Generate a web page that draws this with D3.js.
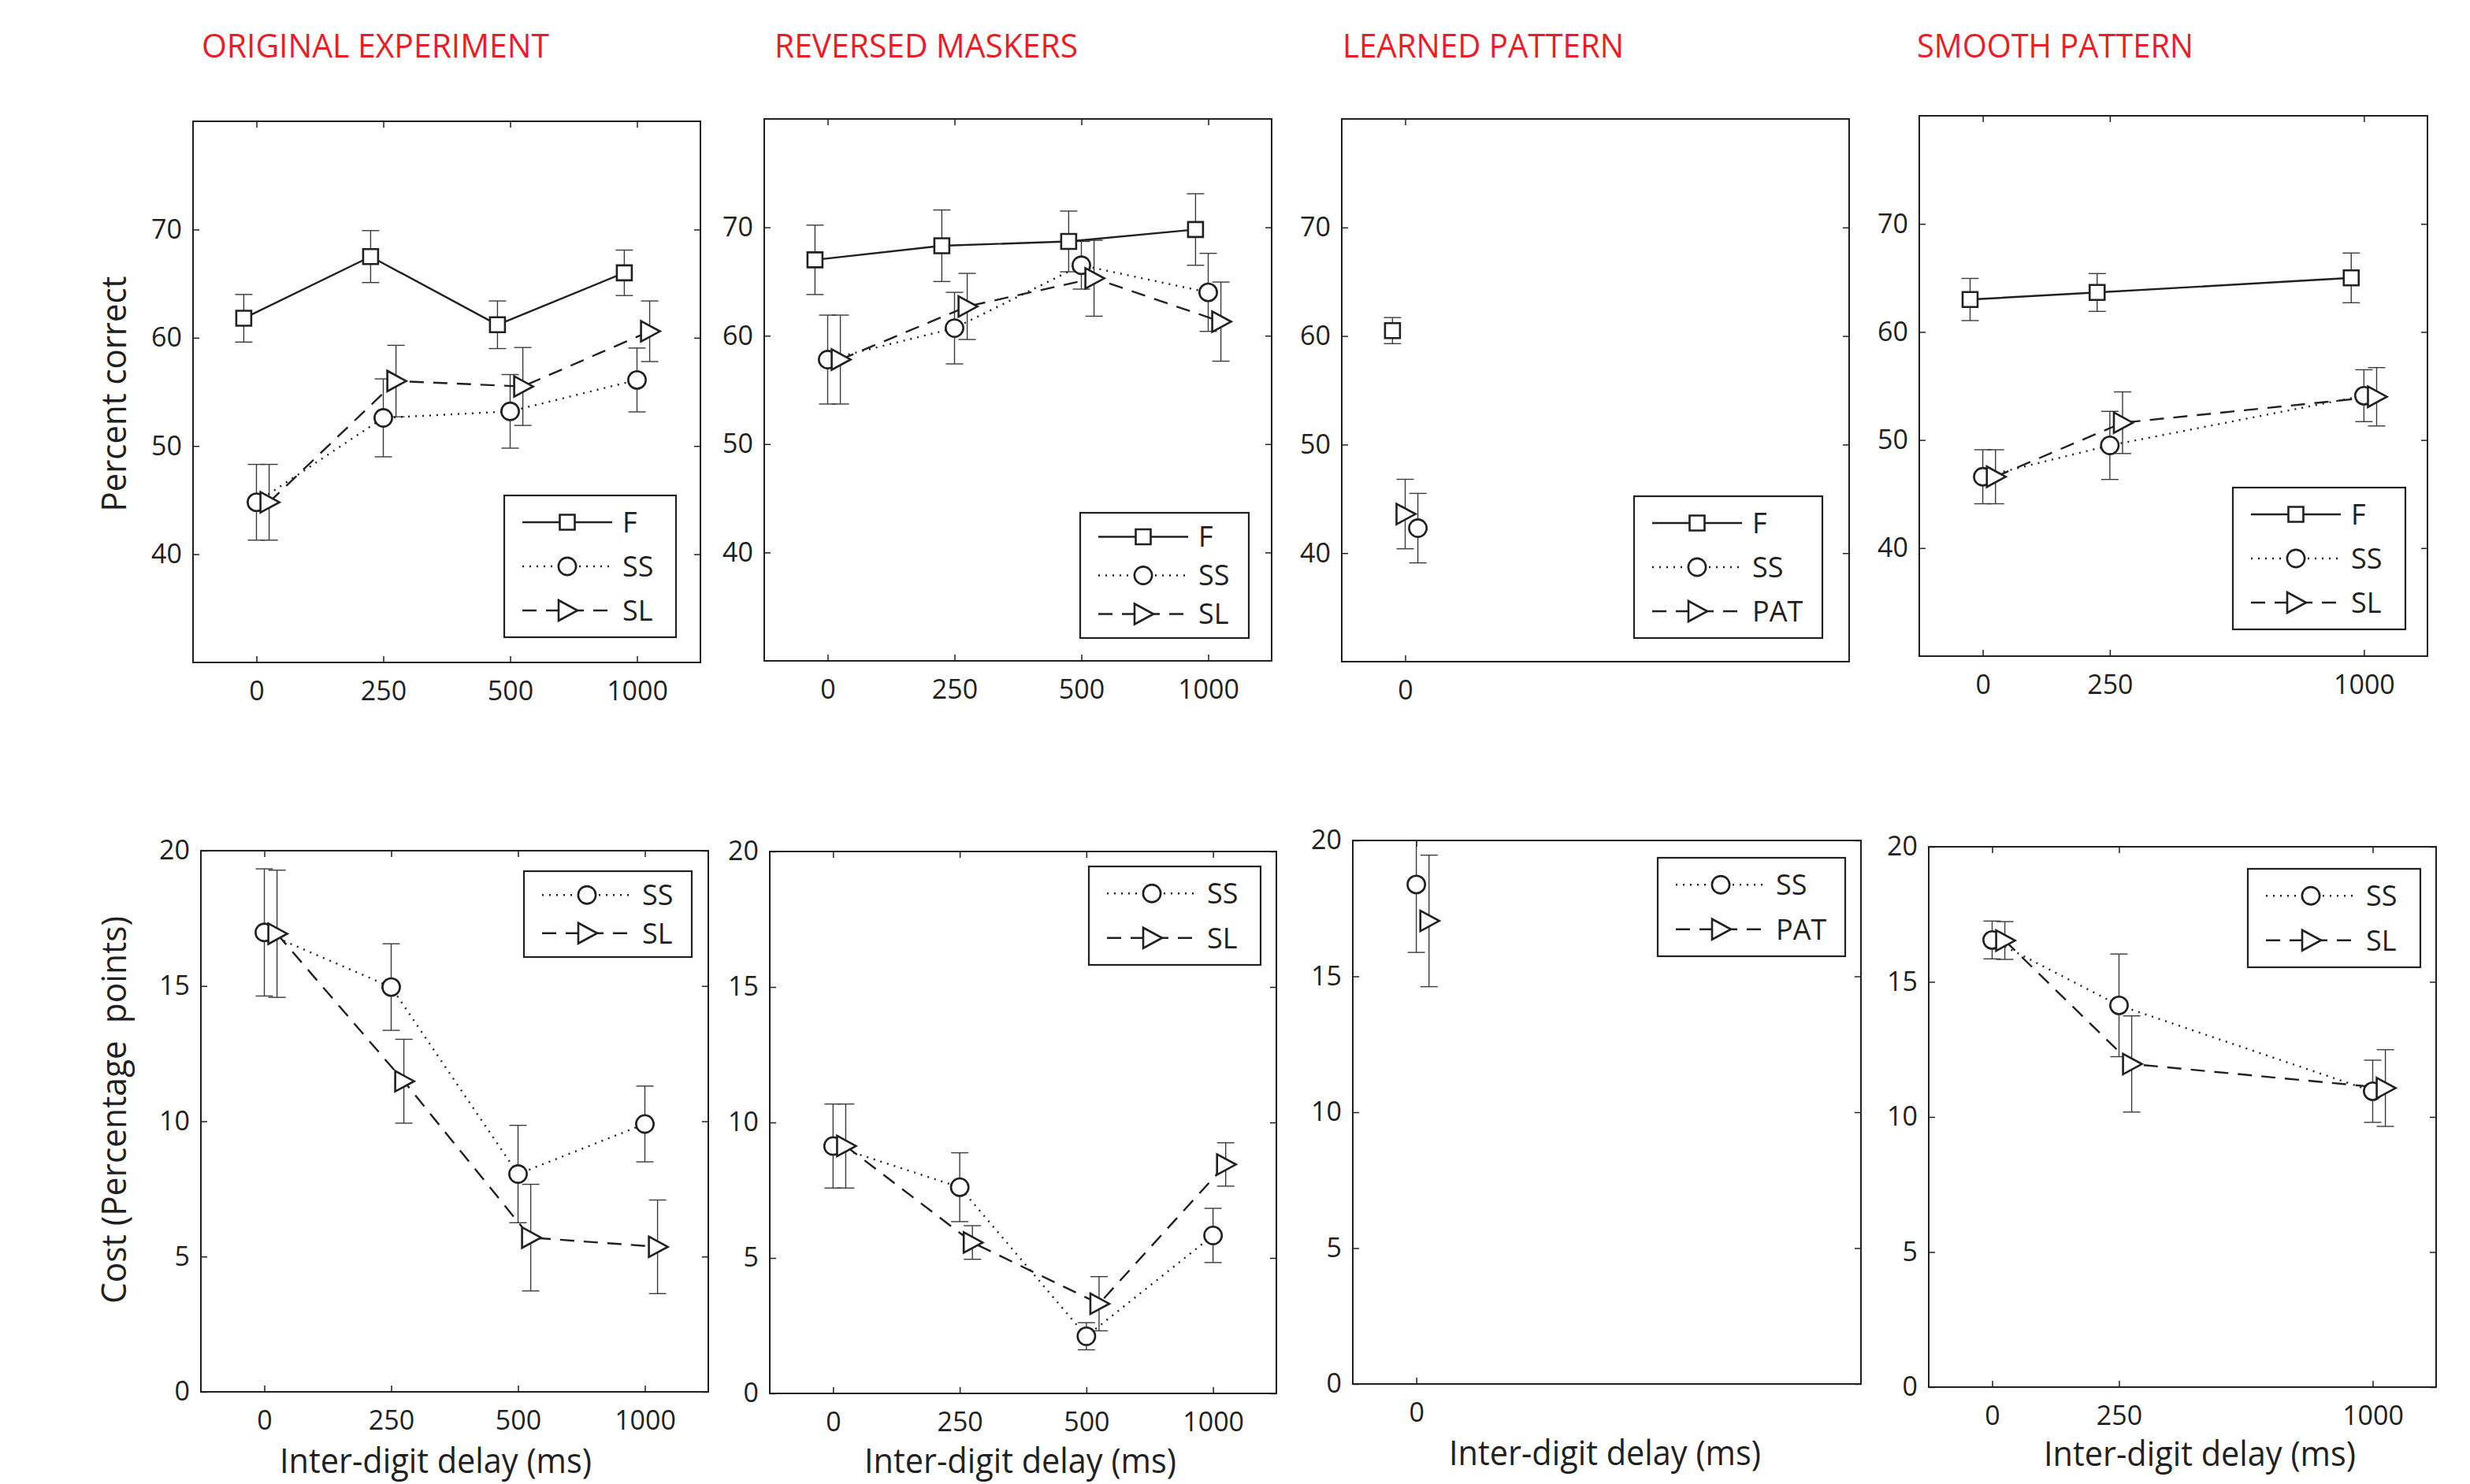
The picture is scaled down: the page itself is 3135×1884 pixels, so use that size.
<!DOCTYPE html>
<html>
<head>
<meta charset="utf-8">
<script src="https://cdn.jsdelivr.net/npm/d3@7"></script>
<style>
body{margin:0;background:#fff;}
text{font-family:'Open Sans','Noto Sans',sans-serif;fill:#231f20;}
</style>
</head>
<body>
<svg id="fig" width="3135" height="1884"></svg>
<script>
'use strict';

//Category positions of the delays and their tick labels
var delayPos = [1, 2, 3, 4];
var delayLabels = ['0', '250', '500', '1000'];
var learnedPos = [1];
var learnedLabels = ['0'];
var smoothPos = [1, 2, 4];
var smoothLabels = ['0', '250', '1000'];

var pctTicks = [40, 50, 60, 70];
var costTicks = [0, 5, 10, 15, 20];

//Percent correct, top row (value, error)
var origF = [61.8, 67.5, 61.2, 66.0];      var origFErr = [2.2, 2.4, 2.2, 2.1];
var origSS = [44.8, 52.6, 53.2, 56.1];     var origSSErr = [3.5, 3.6, 3.4, 2.95];
var origSL = [44.8, 56.0, 55.5, 60.6];     var origSLErr = [3.5, 3.3, 3.6, 2.8];

var revF = [67.0, 68.3, 68.7, 69.8];       var revFErr = [3.2, 3.3, 2.8, 3.3];
var revSS = [57.8, 60.7, 66.5, 64.0];      var revSSErr = [4.1, 3.3, 2.2, 3.6];
var revSL = [57.8, 62.7, 65.3, 61.3];      var revSLErr = [4.1, 3.05, 3.5, 3.65];

var learnF = [60.5];                       var learnFErr = [1.2];
var learnSS = [42.3];                      var learnSSErr = [3.2];
var learnPAT = [43.6];                     var learnPATErr = [3.2];

var smoothF = [63.0, 63.65, 65.0];         var smoothFErr = [1.95, 1.75, 2.3];
var smoothSS = [46.6, 49.5, 54.1];         var smoothSSErr = [2.5, 3.15, 2.4];
var smoothSL = [46.6, 51.6, 54.0];         var smoothSLErr = [2.5, 2.85, 2.7];

//Cost in percentage points, bottom row
var origCostSS = [16.98, 14.96, 8.05, 9.9];   var origCostSSErr = [2.35, 1.6, 1.8, 1.4];
var origCostSL = [16.93, 11.48, 5.7, 5.36];   var origCostSLErr = [2.35, 1.55, 1.97, 1.73];

var revCostSS = [9.13, 7.61, 2.11, 5.83];     var revCostSSErr = [1.55, 1.27, 0.5, 1.0];
var revCostSL = [9.13, 5.57, 3.31, 8.45];     var revCostSLErr = [1.55, 0.62, 1.0, 0.8];

var learnCostSS = [18.38];                    var learnCostSSErr = [2.5];
var learnCostPAT = [17.04];                   var learnCostPATErr = [2.42];

var smoothCostSS = [16.55, 14.13, 10.95];     var smoothCostSSErr = [0.7, 1.9, 1.15];
var smoothCostSL = [16.53, 11.96, 11.07];     var smoothCostSLErr = [0.7, 1.78, 1.42];

//Line / marker style per condition
var styles = {
	F:   {dash: null,    mark: 'square'},
	SS:  {dash: '2,7',   mark: 'circle'},
	SL:  {dash: '18,12', mark: 'tri'},
	PAT: {dash: '18,12', mark: 'tri'}
};

var triangle = {
	draw: function(ctx){
		ctx.moveTo(-11, -13);
		ctx.lineTo(13, 0);
		ctx.lineTo(-11, 13);
		ctx.closePath();
	}
};
var markers = {
	square: d3.symbol().type(d3.symbolSquare).size(361)(),
	circle: d3.symbol().type(d3.symbolCircle).size(390)(),
	tri: d3.symbol().type(triangle)()
};

var panels = [
	{box: [245, 154, 889, 841], yDomain: [30, 80], yTicks: pctTicks, pos: delayPos, labels: delayLabels,
	 title: 'ORIGINAL EXPERIMENT', titleX: 256, titleW: 441, yLabel: 'Percent correct', yLabelY: 500, yLabelW: 299,
	 legend: [640, 629, 858, 809],
	 series: [{key: 'F', v: origF, e: origFErr, off: -0.1}, {key: 'SS', v: origSS, e: origSSErr, off: 0}, {key: 'SL', v: origSL, e: origSLErr, off: 0.1}]},
	{box: [970, 151, 1614, 839], yDomain: [30, 80], yTicks: pctTicks, pos: delayPos, labels: delayLabels,
	 title: 'REVERSED MASKERS', titleX: 983, titleW: 385,
	 legend: [1371, 651, 1585, 810],
	 series: [{key: 'F', v: revF, e: revFErr, off: -0.1}, {key: 'SS', v: revSS, e: revSSErr, off: 0}, {key: 'SL', v: revSL, e: revSLErr, off: 0.1}]},
	{box: [1703, 151, 2347, 840], yDomain: [30, 80], yTicks: pctTicks, pos: learnedPos, labels: learnedLabels,
	 title: 'LEARNED PATTERN', titleX: 1704, titleW: 357,
	 legend: [2074, 630, 2313, 810],
	 series: [{key: 'F', v: learnF, e: learnFErr, off: -0.1}, {key: 'SS', v: learnSS, e: learnSSErr, off: 0.1}, {key: 'PAT', v: learnPAT, e: learnPATErr, off: 0}]},
	{box: [2436, 147, 3081, 833], yDomain: [30, 80], yTicks: pctTicks, pos: smoothPos, labels: smoothLabels,
	 title: 'SMOOTH PATTERN', titleX: 2433, titleW: 351,
	 legend: [2834, 619, 3053, 799],
	 series: [{key: 'F', v: smoothF, e: smoothFErr, off: -0.1}, {key: 'SS', v: smoothSS, e: smoothSSErr, off: 0}, {key: 'SL', v: smoothSL, e: smoothSLErr, off: 0.1}]},

	{box: [255, 1080, 899, 1767], yDomain: [0, 20], yTicks: costTicks, pos: delayPos, labels: delayLabels,
	 yLabel: 'Cost (Percentage\u00a0\u00a0points)', yLabelY: 1409, yLabelW: 492, xLabelX: 553, xLabelY: 1870,
	 legend: [665, 1106, 878, 1215],
	 series: [{key: 'SS', v: origCostSS, e: origCostSSErr, off: 0}, {key: 'SL', v: origCostSL, e: origCostSLErr, off: 0.1}]},
	{box: [977, 1081, 1620, 1769], yDomain: [0, 20], yTicks: costTicks, pos: delayPos, labels: delayLabels,
	 xLabelX: 1295, xLabelY: 1870,
	 legend: [1382, 1100, 1600, 1225],
	 series: [{key: 'SS', v: revCostSS, e: revCostSSErr, off: 0}, {key: 'SL', v: revCostSL, e: revCostSLErr, off: 0.1}]},
	{box: [1717, 1067, 2362, 1757], yDomain: [0, 20], yTicks: costTicks, pos: learnedPos, labels: learnedLabels,
	 xLabelX: 2037, xLabelY: 1860,
	 legend: [2104, 1089, 2342, 1214],
	 series: [{key: 'SS', v: learnCostSS, e: learnCostSSErr, off: 0}, {key: 'PAT', v: learnCostPAT, e: learnCostPATErr, off: 0.1}]},
	{box: [2448, 1075, 3092, 1761], yDomain: [0, 20], yTicks: costTicks, pos: smoothPos, labels: smoothLabels,
	 xLabelX: 2792, xLabelY: 1861,
	 legend: [2853, 1103, 3072, 1228],
	 series: [{key: 'SS', v: smoothCostSS, e: smoothCostSSErr, off: 0}, {key: 'SL', v: smoothCostSL, e: smoothCostSLErr, off: 0.1}]}
];

var svg = d3.select('#fig');
var defs = svg.append('defs');

var styleAxis = function(sel){
	sel.select('.domain').remove();
	sel.selectAll('line').attr('stroke', '#231f20').attr('stroke-width', 1.5);
	sel.selectAll('text').attr('font-size', 34).attr('font-family', null).attr('fill', '#231f20');
	sel.attr('font-family', null);
};

panels.forEach(function(p, k){
	var b = p.box;
	var x = d3.scaleLinear().domain([0.5, 4.5]).range([b[0], b[2]]);
	var y = d3.scaleLinear().domain(p.yDomain).range([b[3], b[1]]);
	var g = svg.append('g');

	defs.append('clipPath').attr('id', 'clip' + k)
		.append('rect').attr('x', b[0]).attr('y', b[1]).attr('width', b[2] - b[0]).attr('height', b[3] - b[1]);

	//Axes with inward ticks on all four sides
	g.append('g').attr('transform', 'translate(0,' + b[3] + ')')
		.call(d3.axisBottom(x).tickValues(p.pos).tickFormat(function(d, i){ return p.labels[i]; })
			.tickSizeInner(-8).tickSizeOuter(0).tickPadding(24))
		.call(styleAxis);
	g.append('g').attr('transform', 'translate(0,' + b[1] + ')')
		.call(d3.axisTop(x).tickValues(p.pos).tickFormat('').tickSizeInner(-8).tickSizeOuter(0))
		.call(styleAxis);
	g.append('g').attr('transform', 'translate(' + b[0] + ',0)')
		.call(d3.axisLeft(y).tickValues(p.yTicks).tickSizeInner(-8).tickSizeOuter(0).tickPadding(14))
		.call(styleAxis);
	g.append('g').attr('transform', 'translate(' + b[2] + ',0)')
		.call(d3.axisRight(y).tickValues(p.yTicks).tickFormat('').tickSizeInner(-8).tickSizeOuter(0))
		.call(styleAxis);

	g.append('rect').attr('x', b[0]).attr('y', b[1]).attr('width', b[2] - b[0]).attr('height', b[3] - b[1])
		.attr('fill', 'none').attr('stroke', '#231f20').attr('stroke-width', 2);

	var sets = p.series.map(function(s){
		return {key: s.key, pts: s.v.map(function(v, i){ return {x: p.pos[i] + s.off, y: v, e: s.e[i]}; })};
	});

	//Error bars
	var eg = g.append('g').attr('clip-path', 'url(#clip' + k + ')')
		.attr('stroke', '#3a3a3a').attr('stroke-width', 1.4);
	sets.forEach(function(s){
		var bars = eg.selectAll(null).data(s.pts).join('g');
		bars.append('line')
			.attr('x1', function(d){ return x(d.x); }).attr('x2', function(d){ return x(d.x); })
			.attr('y1', function(d){ return y(d.y + d.e); }).attr('y2', function(d){ return y(d.y - d.e); });
		bars.append('line')
			.attr('x1', function(d){ return x(d.x) - 11; }).attr('x2', function(d){ return x(d.x) + 11; })
			.attr('y1', function(d){ return y(d.y + d.e); }).attr('y2', function(d){ return y(d.y + d.e); });
		bars.append('line')
			.attr('x1', function(d){ return x(d.x) - 11; }).attr('x2', function(d){ return x(d.x) + 11; })
			.attr('y1', function(d){ return y(d.y - d.e); }).attr('y2', function(d){ return y(d.y - d.e); });
	});

	//Lines
	var line = d3.line().x(function(d){ return x(d.x); }).y(function(d){ return y(d.y); });
	sets.forEach(function(s){
		g.append('path').datum(s.pts).attr('d', line)
			.attr('fill', 'none').attr('stroke', '#231f20').attr('stroke-width', 2.4)
			.attr('stroke-dasharray', styles[s.key].dash);
	});

	//Markers
	sets.forEach(function(s){
		g.selectAll(null).data(s.pts).join('path')
			.attr('d', markers[styles[s.key].mark])
			.attr('transform', function(d){ return 'translate(' + x(d.x) + ',' + y(d.y) + ')'; })
			.attr('fill', '#fff').attr('stroke', '#231f20').attr('stroke-width', 2.6);
	});

	//Legend
	var L = p.legend;
	var lg = svg.append('g');
	lg.append('rect').attr('x', L[0]).attr('y', L[1]).attr('width', L[2] - L[0]).attr('height', L[3] - L[1])
		.attr('fill', '#fff').attr('stroke', '#231f20').attr('stroke-width', 2.2);
	var rowH = (L[3] - L[1] - 12) / p.series.length;
	p.series.forEach(function(s, i){
		var cy = L[1] + 6 + rowH * (i + 0.5);
		lg.append('line').attr('x1', L[0] + 23).attr('x2', L[0] + 137).attr('y1', cy).attr('y2', cy)
			.attr('stroke', '#231f20').attr('stroke-width', 2.4).attr('stroke-dasharray', styles[s.key].dash);
		lg.append('path').attr('d', markers[styles[s.key].mark])
			.attr('transform', 'translate(' + (L[0] + 80) + ',' + cy + ')')
			.attr('fill', '#fff').attr('stroke', '#231f20').attr('stroke-width', 2.6);
		lg.append('text').attr('x', L[0] + 150).attr('y', cy).attr('dy', '0.36em')
			.attr('font-size', 36).text(s.key);
	});

	//Titles and axis labels
	if(p.title){
		svg.append('text').attr('x', p.titleX).attr('y', 73).attr('font-size', 42)
			.attr('textLength', p.titleW).attr('lengthAdjust', 'spacingAndGlyphs')
			.style('fill', '#ed1c24').text(p.title);
	}
	if(p.yLabel){
		svg.append('text').attr('transform', 'translate(160,' + p.yLabelY + ') rotate(-90)')
			.attr('text-anchor', 'middle').attr('font-size', 44)
			.attr('textLength', p.yLabelW).attr('lengthAdjust', 'spacingAndGlyphs').text(p.yLabel);
	}
	if(p.xLabelX){
		svg.append('text').attr('x', p.xLabelX).attr('y', p.xLabelY)
			.attr('text-anchor', 'middle').attr('font-size', 44)
			.attr('textLength', 396).attr('lengthAdjust', 'spacingAndGlyphs').text('Inter-digit delay (ms)');
	}
});
</script>
</body>
</html>
